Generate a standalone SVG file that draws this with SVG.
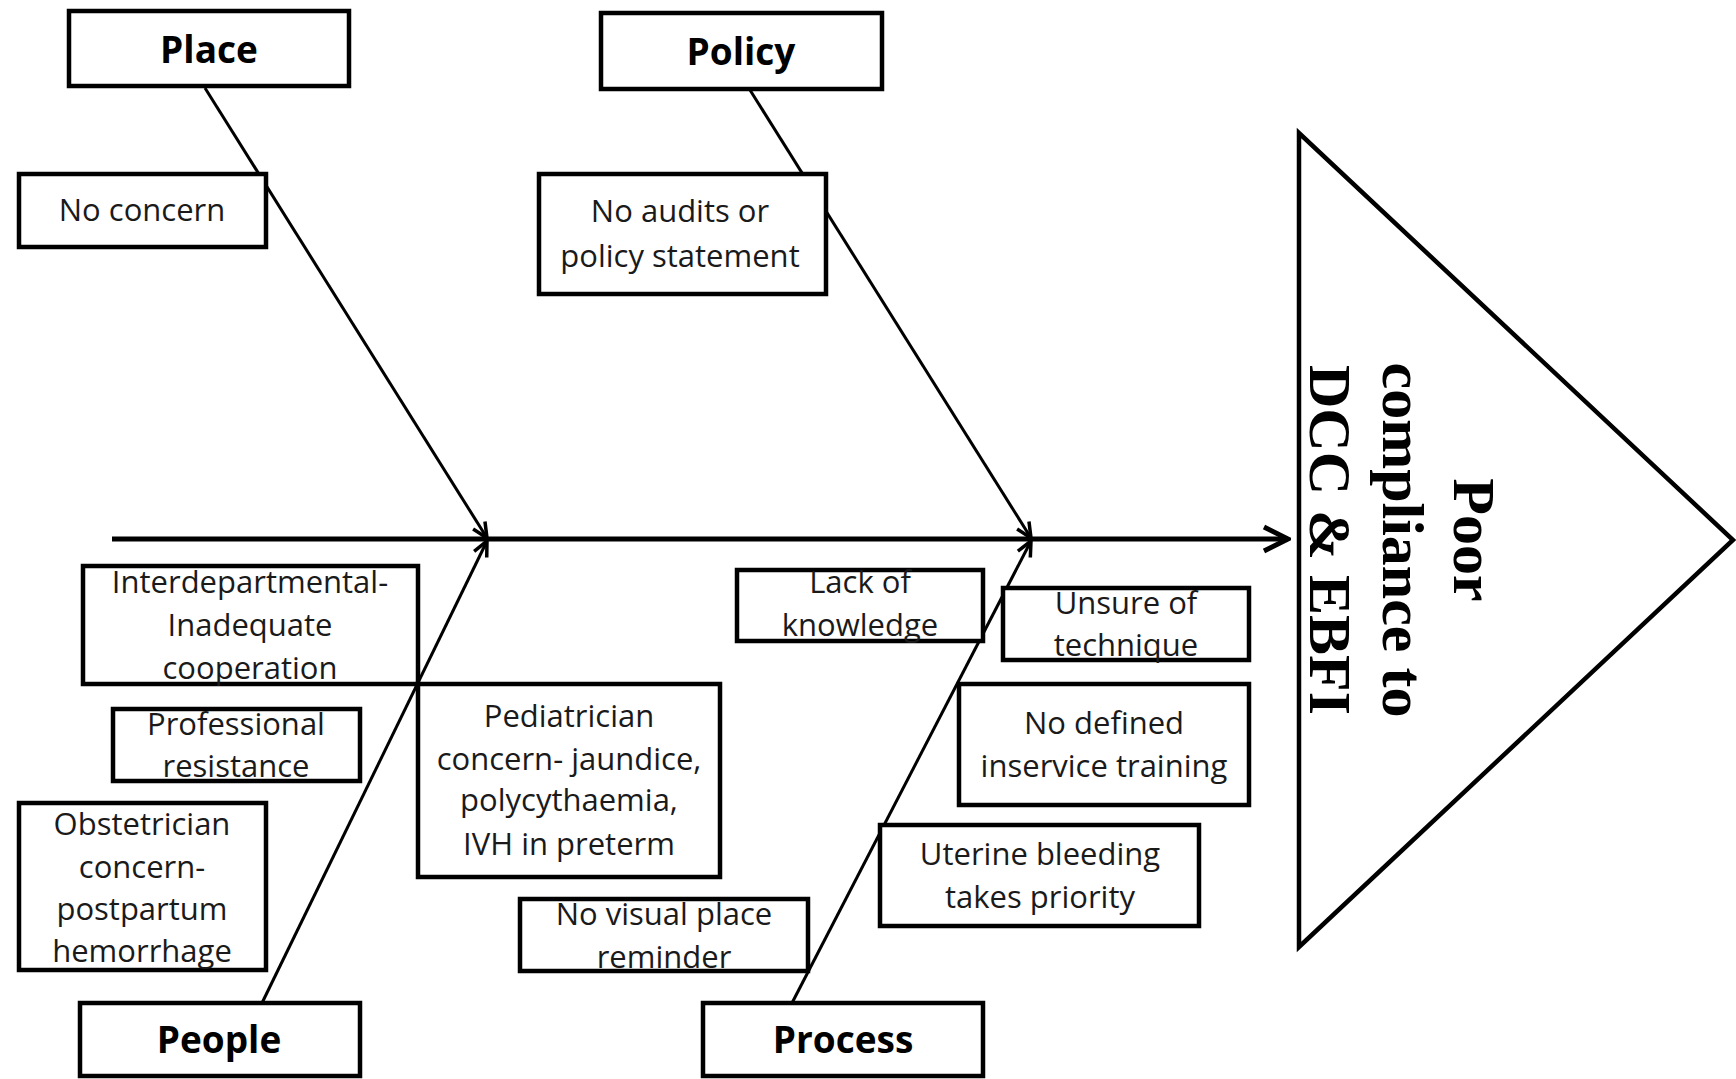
<svg xmlns="http://www.w3.org/2000/svg" width="1736" height="1079" viewBox="0 0 1736 1079">
<style>
.box{fill:#fff;stroke:#000;stroke-width:4.5}
.title{font-family:"Open Sans","Liberation Sans",sans-serif;font-weight:bold;font-size:37px;fill:#000;text-anchor:middle}
.body{font-family:"Open Sans","Liberation Sans",sans-serif;font-size:31px;fill:#1a1a1a;text-anchor:middle}
.bone{stroke:#000;stroke-width:3;fill:none}
.spine{stroke:#000;stroke-width:5;fill:none}
.effect{font-family:"Liberation Serif","Times New Roman",serif;font-weight:bold;font-size:60px;fill:#000;text-anchor:middle}
</style>
<defs>
<marker id="arrBone" markerUnits="userSpaceOnUse" viewBox="0 0 20 20" markerWidth="20" markerHeight="20" refX="18" refY="10" orient="auto">
<path d="M3,3 L18,10 L3,17" fill="none" stroke="#000" stroke-width="3.5"/>
</marker>
<marker id="arrSpine" markerUnits="userSpaceOnUse" viewBox="0 0 30 30" markerWidth="30" markerHeight="30" refX="27" refY="15" orient="auto">
<path d="M3,3 L27,15 L3,27" fill="none" stroke="#000" stroke-width="5"/>
</marker>
</defs>
<rect width="1736" height="1079" fill="#fff"/>
<g id="connectors">
<line class="spine" x1="112" y1="539" x2="1288" y2="539" marker-end="url(#arrSpine)"/>
<line class="bone" x1="205" y1="88" x2="487" y2="538" marker-end="url(#arrBone)"/>
<line class="bone" x1="750" y1="90" x2="1031" y2="538" marker-end="url(#arrBone)"/>
<line class="bone" x1="262" y1="1003" x2="487" y2="541" marker-end="url(#arrBone)"/>
<line class="bone" x1="792" y1="1003" x2="1031" y2="541" marker-end="url(#arrBone)"/>
</g>
<g id="effect">
<polygon points="1299,133 1299,947 1733,540" fill="#fff" stroke="#000" stroke-width="4.5" stroke-linejoin="miter"/>
<g transform="translate(1454,540) rotate(90)">
<text class="effect" x="0" y="0">Poor</text>
<text class="effect" x="0" y="71">compliance to</text>
<text class="effect" x="0" y="144">DCC &amp; EBFI</text>
</g>
</g>
<g id="place">
<rect class="box" x="69" y="11" width="280" height="75"/>
<text class="title" x="209" y="63">Place</text>
</g>
<g id="policy">
<rect class="box" x="601" y="13" width="281" height="76"/>
<text class="title" x="741" y="65">Policy</text>
</g>
<g id="no-concern">
<rect class="box" x="19" y="174" width="247" height="73"/>
<text class="body" x="142" y="221">No concern</text>
</g>
<g id="no-audits">
<rect class="box" x="539" y="174" width="287" height="120"/>
<text class="body" x="680" y="222">No audits or</text>
<text class="body" x="680" y="267">policy statement</text>
</g>
<g id="interdepartmental">
<rect class="box" x="83" y="566" width="335" height="118"/>
<text class="body" x="250" y="593">Interdepartmental-</text>
<text class="body" x="250" y="636">Inadequate</text>
<text class="body" x="250" y="679">cooperation</text>
</g>
<g id="professional">
<rect class="box" x="113" y="709" width="247" height="72"/>
<text class="body" x="236" y="735">Professional</text>
<text class="body" x="236" y="777">resistance</text>
</g>
<g id="obstetrician">
<rect class="box" x="19" y="803" width="247" height="167"/>
<text class="body" x="142" y="835">Obstetrician</text>
<text class="body" x="142" y="878">concern-</text>
<text class="body" x="142" y="920">postpartum</text>
<text class="body" x="142" y="962">hemorrhage</text>
</g>
<g id="pediatrician">
<rect class="box" x="418" y="684" width="302" height="193"/>
<text class="body" x="569" y="727">Pediatrician</text>
<text class="body" x="569" y="770">concern- jaundice,</text>
<text class="body" x="569" y="811">polycythaemia,</text>
<text class="body" x="569" y="855">IVH in preterm</text>
</g>
<g id="no-visual">
<rect class="box" x="520" y="899" width="288" height="72"/>
<text class="body" x="664" y="925">No visual place</text>
<text class="body" x="664" y="968">reminder</text>
</g>
<g id="people">
<rect class="box" x="80" y="1003" width="280" height="73"/>
<text class="title" x="219" y="1053">People</text>
</g>
<g id="process">
<rect class="box" x="703" y="1003" width="280" height="73"/>
<text class="title" x="843" y="1053">Process</text>
</g>
<g id="lack-knowledge">
<rect class="box" x="737" y="570" width="246" height="71"/>
<text class="body" x="860" y="593">Lack of</text>
<text class="body" x="860" y="636">knowledge</text>
</g>
<g id="unsure-technique">
<rect class="box" x="1003" y="588" width="246" height="72"/>
<text class="body" x="1126" y="614">Unsure of</text>
<text class="body" x="1126" y="656">technique</text>
</g>
<g id="no-training">
<rect class="box" x="959" y="684" width="290" height="121"/>
<text class="body" x="1104" y="734">No defined</text>
<text class="body" x="1104" y="777">inservice training</text>
</g>
<g id="uterine">
<rect class="box" x="880" y="825" width="319" height="101"/>
<text class="body" x="1040" y="865">Uterine bleeding</text>
<text class="body" x="1040" y="908">takes priority</text>
</g>
</svg>
